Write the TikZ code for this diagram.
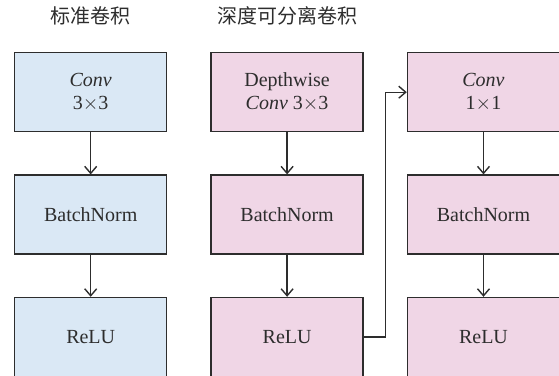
\documentclass[tikz,border=0pt]{standalone}
\usepackage{fontspec}
\setmainfont{Liberation Serif}
\newfontfamily\cjk{Noto Sans CJK SC}
\usetikzlibrary{positioning,arrows.meta}

\definecolor{convblue}{RGB}{218,232,245}
\definecolor{convpink}{RGB}{240,214,230}
\definecolor{inkgray}{RGB}{45,45,45}

\newcommand{\by}{\ensuremath{\times}}

\begin{document}
\begin{tikzpicture}[>={Straight Barb[length=3.5pt,width=6pt]},
  node distance=21pt and 21.5pt,
  blk/.style={draw=inkgray,line width=0.7pt,minimum width=76pt,minimum height=39.5pt,
    inner sep=0pt,align=center,font=\fontsize{10pt}{11.5pt}\selectfont,text=inkgray},
  std/.style={blk,fill=convblue},
  sep/.style={blk,fill=convpink},
  title/.style={inner sep=0pt,font=\cjk\fontsize{10pt}{12pt}\selectfont,text=inkgray},
  link/.style={->,draw=inkgray,line width=0.7pt}]
  \useasboundingbox (0,0) rectangle (279.5pt,-188pt);

  % standard convolution
  \node[std,anchor=north west] (conv) at (7pt,-26pt) {\textit{Conv}\\3\by3};
  \node[std,below=of conv] (bn1) {BatchNorm};
  \node[std,below=of bn1] (relu1) {ReLU};

  % depthwise separable convolution
  \node[sep,right=of conv] (dw) {Depthwise\\\textit{Conv} 3\by3};
  \node[sep,below=of dw] (bn2) {BatchNorm};
  \node[sep,below=of bn2] (relu2) {ReLU};
  \node[sep,right=of dw] (pw) {\textit{Conv}\\1\by1};
  \node[sep,below=of pw] (bn3) {BatchNorm};
  \node[sep,below=of bn3] (relu3) {ReLU};

  \node[title,above=13pt of conv] (t1) {标准卷积};
  \node[title,above=13pt of dw] (t2) {深度可分离卷积};

  \draw[link] (conv) -- (bn1);
  \draw[link] (bn1) -- (relu1);
  \draw[link] (dw) -- (bn2);
  \draw[link] (bn2) -- (relu2);
  \draw[link] (relu2.east) -- ++(10.75pt,0) |- (pw.west);
  \draw[link] (pw) -- (bn3);
  \draw[link] (bn3) -- (relu3);
\end{tikzpicture}
\end{document}
